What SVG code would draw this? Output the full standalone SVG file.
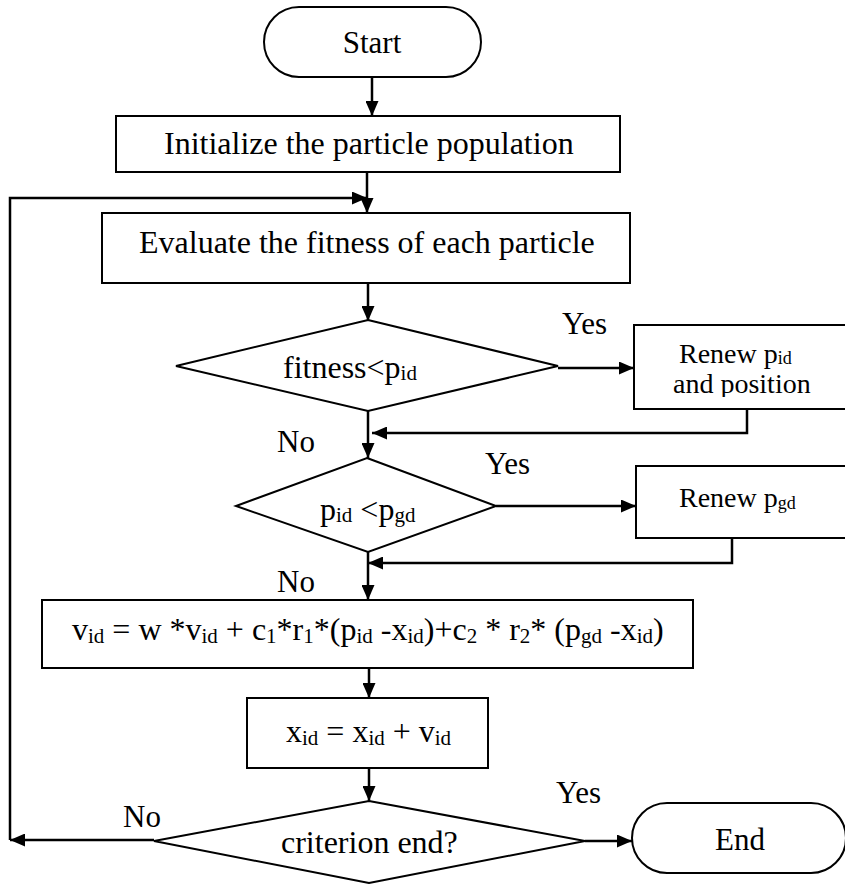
<svg xmlns="http://www.w3.org/2000/svg" width="845" height="884" viewBox="0 0 845 884">
<style>
  .shape { fill: #ffffff; stroke: #000000; stroke-width: 2; }
  .conn { fill: none; stroke: #000000; stroke-width: 2.5; }
  text { font-family: "Liberation Serif", "Times New Roman", serif; font-size: 32px; fill: #000000; }
  .lbl { font-size: 31px; }
  .small { font-size: 28px; }
  .sub { font-size: 21px; }
  .sub2 { font-size: 18px; }
</style>
<defs>
  <marker id="arrow" markerUnits="userSpaceOnUse" markerWidth="15" markerHeight="13" refX="15" refY="6.5" orient="auto">
    <path d="M0,0 L15,6.5 L0,13 z" fill="#000000"/>
  </marker>
  <clipPath id="clipRenew1">
    <rect x="636" y="326" width="212" height="71"/>
  </clipPath>
</defs>
<rect width="845" height="884" fill="#ffffff"/>

<g id="connectors">
  <path class="conn" d="M372,77 V116" marker-end="url(#arrow)"/>
  <path class="conn" d="M367,172 V213" marker-end="url(#arrow)"/>
  <path class="conn" d="M10,840 V198 H367" marker-end="url(#arrow)"/>
  <path class="conn" d="M368,283 V321" marker-end="url(#arrow)"/>
  <path class="conn" d="M558,368 H634" marker-end="url(#arrow)"/>
  <path class="conn" d="M368,411 V458" marker-end="url(#arrow)"/>
  <path class="conn" d="M747,409 V433 H372" marker-end="url(#arrow)"/>
  <path class="conn" d="M496,506 H636" marker-end="url(#arrow)"/>
  <path class="conn" d="M732,538 V563 H368" marker-end="url(#arrow)"/>
  <path class="conn" d="M368,552 V600" marker-end="url(#arrow)"/>
  <path class="conn" d="M369,668 V698" marker-end="url(#arrow)"/>
  <path class="conn" d="M369,768 V801" marker-end="url(#arrow)"/>
  <path class="conn" d="M154,840 H10" marker-end="url(#arrow)"/>
  <path class="conn" d="M585,841 H632" marker-end="url(#arrow)"/>
  <text class="lbl" x="562" y="334">Yes</text>
  <text class="lbl" x="277" y="452">No</text>
  <text class="lbl" x="485" y="474">Yes</text>
  <text class="lbl" x="277" y="592">No</text>
  <text class="lbl" x="556" y="803">Yes</text>
  <text class="lbl" x="123" y="827">No</text>
</g>

<g id="start">
  <rect class="shape" x="264" y="7" width="217" height="70" rx="35" ry="35"/>
  <text class="lbl" x="372" y="53" text-anchor="middle">Start</text>
</g>

<g id="init">
  <rect class="shape" x="116" y="116" width="504" height="56"/>
  <text x="164" y="154">Initialize the particle population</text>
</g>

<g id="evaluate">
  <rect class="shape" x="102" y="213" width="528" height="70"/>
  <text x="139" y="253">Evaluate the fitness of each particle</text>
</g>

<g id="decision1">
  <polygon class="shape" points="368,320 558,366 368,411 176,366"/>
  <text x="283" y="378">fitness&lt;p<tspan class="sub" dy="2">id</tspan></text>
</g>

<g id="renew-pid">
  <rect class="shape" x="634" y="325" width="214" height="84"/>
  <text class="small" x="679" y="363">Renew p<tspan class="sub2" dy="1">id</tspan></text>
  <text class="small" x="673" y="393" clip-path="url(#clipRenew1)">and position</text>
</g>

<g id="decision2">
  <polygon class="shape" points="367,458 496,506 368,552 236,506"/>
  <text x="320" y="520">p<tspan class="sub" dy="2">id</tspan><tspan dy="-2"> &lt;p</tspan><tspan class="sub" dy="2">gd</tspan></text>
</g>

<g id="renew-pgd">
  <rect class="shape" x="636" y="466" width="212" height="72"/>
  <text class="small" x="679" y="507">Renew p<tspan class="sub2" dy="2">gd</tspan></text>
</g>

<g id="velocity">
  <rect class="shape" x="42" y="600" width="651" height="68"/>
  <text x="72" y="640">v<tspan class="sub" dy="3">id</tspan><tspan dy="-3"> = w *v</tspan><tspan class="sub" dy="3">id</tspan><tspan dy="-3"> + c</tspan><tspan class="sub" dy="3">1</tspan><tspan dy="-3">*r</tspan><tspan class="sub" dy="3">1</tspan><tspan dy="-3">*(p</tspan><tspan class="sub" dy="3">id</tspan><tspan dy="-3"> -x</tspan><tspan class="sub" dy="3">id</tspan><tspan dy="-3">)+c</tspan><tspan class="sub" dy="3">2</tspan><tspan dy="-3"> * r</tspan><tspan class="sub" dy="3">2</tspan><tspan dy="-3">* (p</tspan><tspan class="sub" dy="3">gd</tspan><tspan dy="-3"> -x</tspan><tspan class="sub" dy="3">id</tspan><tspan dy="-3">)</tspan></text>
</g>

<g id="position">
  <rect class="shape" x="247" y="698" width="241" height="70"/>
  <text x="286" y="742">x<tspan class="sub" dy="3">id</tspan><tspan dy="-3"> = x</tspan><tspan class="sub" dy="3">id</tspan><tspan dy="-3"> + v</tspan><tspan class="sub" dy="3">id</tspan></text>
</g>

<g id="decision3">
  <polygon class="shape" points="369,801 585,841 369,883 154,841"/>
  <text x="281" y="853">criterion end?</text>
</g>

<g id="end">
  <rect class="shape" x="632" y="803" width="214" height="70" rx="35" ry="35"/>
  <text class="lbl" x="715" y="850">End</text>
</g>
</svg>
